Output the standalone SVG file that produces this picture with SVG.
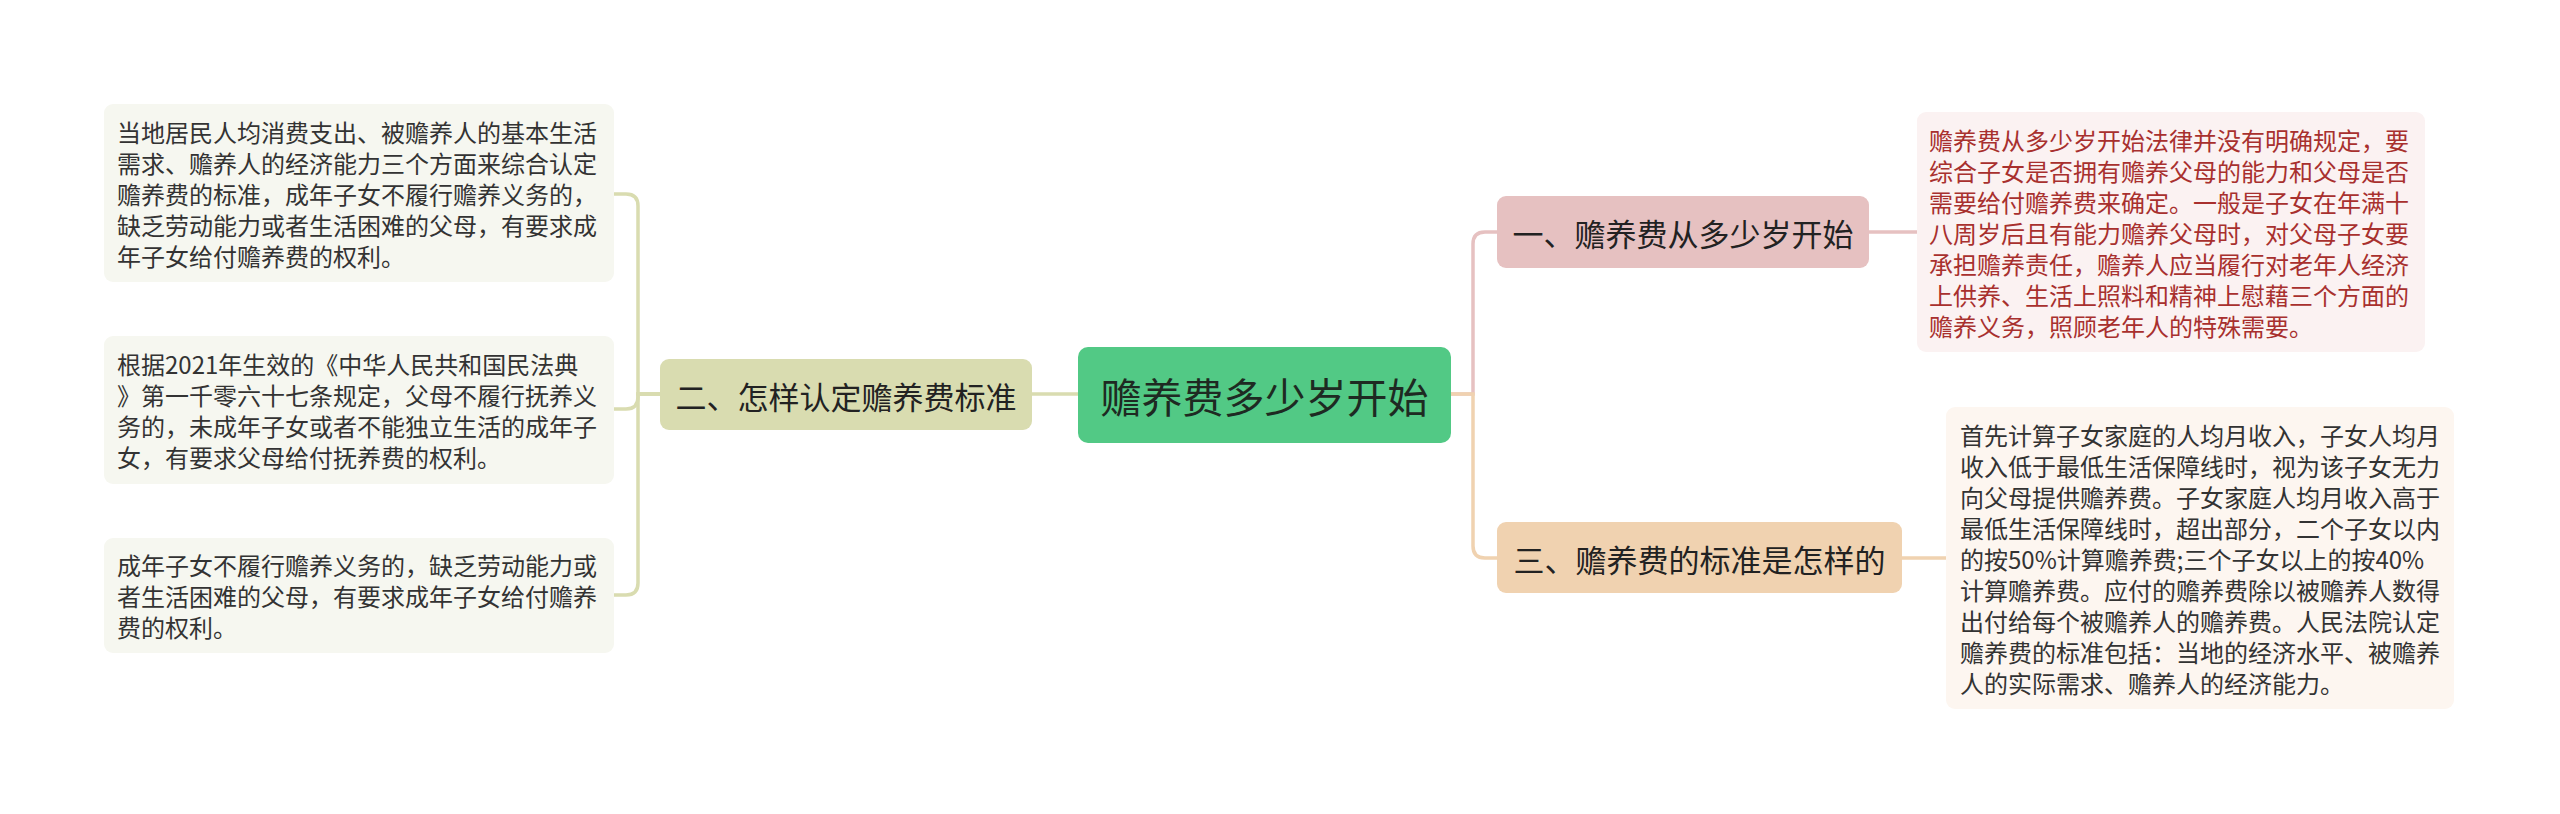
<svg xmlns="http://www.w3.org/2000/svg" width="2560" height="814" viewBox="0 0 2560 814">
<style>
text { font-family: "Noto Sans CJK SC", "Noto Sans", sans-serif; dominant-baseline: central; }
.leaf text, text.leaf { font-size: 24px; fill: #333333; }
.conn { fill: none; stroke-width: 3.5; stroke-linecap: round; }
.c2 { stroke: #d9dcb0; }
.c1 { stroke: #e6c1c1; }
.c3 { stroke: #f0d2b0; }
</style>
<rect width="2560" height="814" fill="#ffffff"/>
<g id="connectors">
  <path class="conn c2" d="M1078 394 H1032"/>
  <path class="conn c2" d="M660 394 H638 V206 Q638 194 626 194 H614"/>
  <path class="conn c2" d="M660 394 H638 V397 Q638 409 626 409 H614"/>
  <path class="conn c2" d="M660 394 H638 V583 Q638 595 626 595 H614"/>
  <path class="conn c1" d="M1451 394 H1473 V244 Q1473 232 1485 232 H1497"/>
  <path class="conn c3" d="M1451 394 H1473 V546 Q1473 558 1485 558 H1497"/>
  <path class="conn c1" d="M1869 232 H1917"/>
  <path class="conn c3" d="M1902 558 H1946"/>
</g>
<g id="root">
  <rect x="1078" y="347" width="373" height="96" rx="10" fill="#52c985"/>
  <text x="1264.5" y="395" font-size="41" text-anchor="middle" fill="#1e2a22">赡养费多少岁开始</text>
</g>
<g id="branch2">
  <rect x="660" y="359" width="372" height="71" rx="9" fill="#d9dcb0"/>
  <text x="846" y="395" font-size="31" text-anchor="middle" fill="#222222">二、怎样认定赡养费标准</text>
</g>
<g id="branch1">
  <rect x="1497" y="196" width="372" height="72" rx="9" fill="#e6c1c1"/>
  <text x="1683" y="232" font-size="31" text-anchor="middle" fill="#222222">一、赡养费从多少岁开始</text>
</g>
<g id="branch3">
  <rect x="1497" y="522" width="405" height="71" rx="9" fill="#f0d2b0"/>
  <text x="1699.5" y="558" font-size="31" text-anchor="middle" fill="#222222">三、赡养费的标准是怎样的</text>
</g>
<g id="leaf2a" class="leaf">
  <rect x="104" y="104" width="510" height="178" rx="9" fill="#f6f7f0"/>
  <text x="117" y="131">当地居民人均消费支出、被赡养人的基本生活</text>
  <text x="117" y="162">需求、赡养人的经济能力三个方面来综合认定</text>
  <text x="117" y="193">赡养费的标准，成年子女不履行赡养义务的，</text>
  <text x="117" y="224">缺乏劳动能力或者生活困难的父母，有要求成</text>
  <text x="117" y="255">年子女给付赡养费的权利。</text>
</g>
<g id="leaf2b" class="leaf">
  <rect x="104" y="336" width="510" height="148" rx="9" fill="#f6f7f0"/>
  <text x="117" y="363.5">根据2021年生效的《中华人民共和国民法典</text>
  <text x="117" y="394.5">》第一千零六十七条规定，父母不履行抚养义</text>
  <text x="117" y="425.5">务的，未成年子女或者不能独立生活的成年子</text>
  <text x="117" y="456.5">女，有要求父母给付抚养费的权利。</text>
</g>
<g id="leaf2c" class="leaf">
  <rect x="104" y="538" width="510" height="115" rx="9" fill="#f6f7f0"/>
  <text x="117" y="564.5">成年子女不履行赡养义务的，缺乏劳动能力或</text>
  <text x="117" y="595.5">者生活困难的父母，有要求成年子女给付赡养</text>
  <text x="117" y="626.5">费的权利。</text>
</g>
<g id="leaf1" class="leaf">
  <rect x="1917" y="112" width="508" height="240" rx="9" fill="#fbf2f2"/>
  <g fill="#a8302e">
  <text x="1929" y="139" style="fill:#a8302e">赡养费从多少岁开始法律并没有明确规定，要</text>
  <text x="1929" y="170" style="fill:#a8302e">综合子女是否拥有赡养父母的能力和父母是否</text>
  <text x="1929" y="201" style="fill:#a8302e">需要给付赡养费来确定。一般是子女在年满十</text>
  <text x="1929" y="232" style="fill:#a8302e">八周岁后且有能力赡养父母时，对父母子女要</text>
  <text x="1929" y="263" style="fill:#a8302e">承担赡养责任，赡养人应当履行对老年人经济</text>
  <text x="1929" y="294" style="fill:#a8302e">上供养、生活上照料和精神上慰藉三个方面的</text>
  <text x="1929" y="325" style="fill:#a8302e">赡养义务，照顾老年人的特殊需要。</text>
  </g>
</g>
<g id="leaf3" class="leaf">
  <rect x="1946" y="407" width="508" height="302" rx="9" fill="#fdf6f0"/>
  <text x="1960" y="434">首先计算子女家庭的人均月收入，子女人均月</text>
  <text x="1960" y="465">收入低于最低生活保障线时，视为该子女无力</text>
  <text x="1960" y="496">向父母提供赡养费。子女家庭人均月收入高于</text>
  <text x="1960" y="527">最低生活保障线时，超出部分，二个子女以内</text>
  <text x="1960" y="558">的按50%计算赡养费;三个子女以上的按40%</text>
  <text x="1960" y="589">计算赡养费。应付的赡养费除以被赡养人数得</text>
  <text x="1960" y="620">出付给每个被赡养人的赡养费。人民法院认定</text>
  <text x="1960" y="651">赡养费的标准包括：当地的经济水平、被赡养</text>
  <text x="1960" y="682">人的实际需求、赡养人的经济能力。</text>
</g>
</svg>
